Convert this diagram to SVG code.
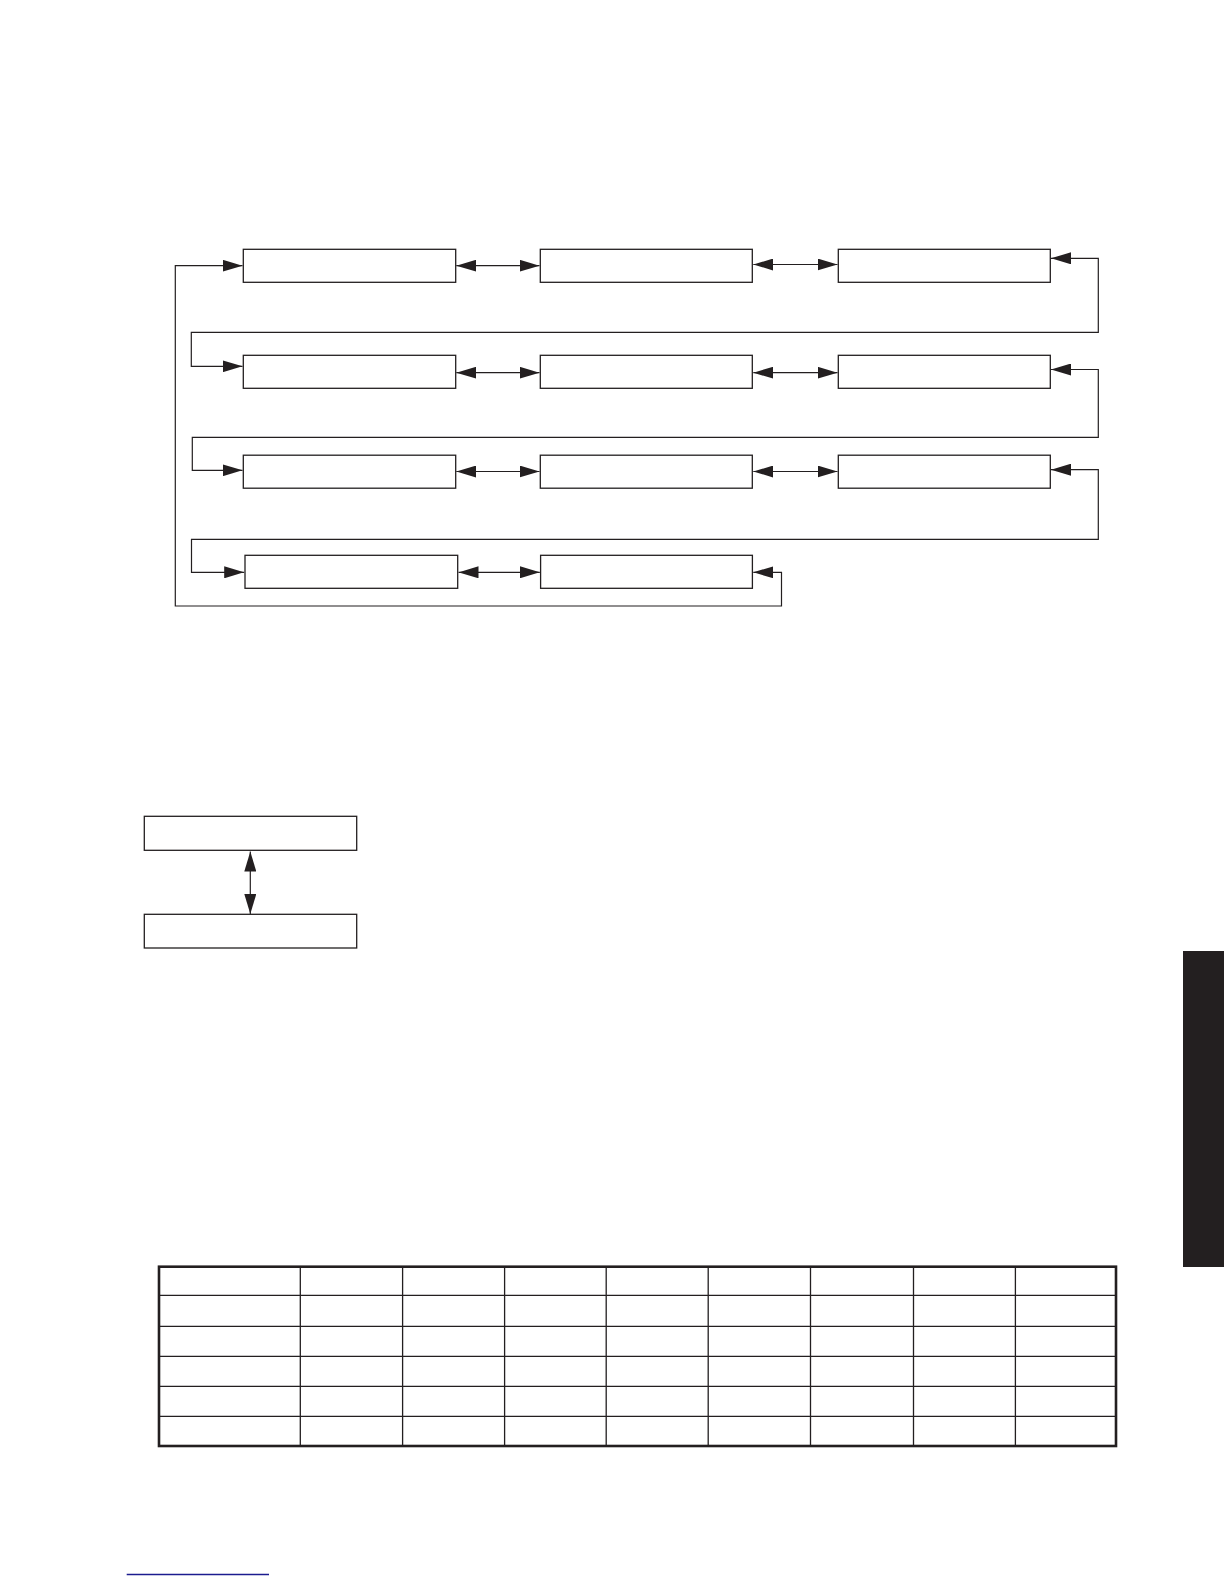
<svg xmlns="http://www.w3.org/2000/svg" width="1224" height="1584" viewBox="0 0 1224 1584">
<style>
.box{fill:#fff;stroke:#231f20;stroke-width:1.3}
.con{fill:none;stroke:#231f20;stroke-width:1.2;marker-start:url(#ah);marker-end:url(#ah)}
.grid{stroke:#231f20;stroke-width:1.3}
</style>
<defs>
<marker id="ah" markerUnits="userSpaceOnUse" markerWidth="20" markerHeight="12" refX="20" refY="6" orient="auto-start-reverse" viewBox="0 0 20 12">
<path d="M0,0 L20,6 L0,12 z" fill="#231f20"/>
</marker>
</defs>
<rect width="1224" height="1584" fill="#fff"/>
<g id="r1c1"><rect class="box" x="243.3" y="249.3" width="212.4" height="33"/></g>
<g id="r1c2"><rect class="box" x="540.3" y="249.3" width="212" height="33"/></g>
<g id="r1c3"><rect class="box" x="838.3" y="249.3" width="212" height="33"/></g>
<g id="r2c1"><rect class="box" x="243.3" y="355.3" width="212.4" height="33"/></g>
<g id="r2c2"><rect class="box" x="540.3" y="355.3" width="212" height="33"/></g>
<g id="r2c3"><rect class="box" x="838.3" y="355.3" width="212" height="33"/></g>
<g id="r3c1"><rect class="box" x="243.3" y="455.2" width="212.4" height="33"/></g>
<g id="r3c2"><rect class="box" x="540.3" y="455.2" width="212" height="33"/></g>
<g id="r3c3"><rect class="box" x="838.3" y="455.2" width="212" height="33"/></g>
<g id="r4c1"><rect class="box" x="245" y="555.3" width="212.7" height="33"/></g>
<g id="r4c2"><rect class="box" x="540.6" y="555.3" width="211.8" height="33"/></g>
<g id="boxA"><rect class="box" x="144.3" y="816.3" width="212.4" height="34"/></g>
<g id="boxB"><rect class="box" x="144.3" y="914.3" width="212.4" height="33.7"/></g>
<g id="connectors">
<path class="con" d="M456.3 265.7 H539.5"/>
<path class="con" d="M753.3 264.5 H837.5"/>
<path class="con" d="M456.3 372.7 H539.5"/>
<path class="con" d="M753.3 372.7 H837.5"/>
<path class="con" d="M456.3 471.5 H539.5"/>
<path class="con" d="M753.3 471.5 H837.5"/>
<path class="con" d="M458.5 572.3 H539.8"/>
<path class="con" d="M1051 258.3 H1098.3 V332.3 H191.3 V366.3 H242.5"/>
<path class="con" d="M1051 369.5 H1098.3 V437.3 H192.3 V470.3 H242.5"/>
<path class="con" d="M1051 469.7 H1098.3 V539.3 H191.5 V572.3 H244.2"/>
<path class="con" d="M753.3 572.3 H781.5 V606 H175.3 V265.7 H242.5"/>
<path class="con" d="M250.3 851.5 V914"/>
</g>
<g id="table">
<rect x="159" y="1266.7" width="957" height="179.3" fill="none" stroke="#231f20" stroke-width="2.6"/>
<path class="grid" d="M159 1295.3 H1116 M159 1326.3 H1116 M159 1356.3 H1116 M159 1386.3 H1116 M159 1416.3 H1116 M300.3 1266.7 V1446 M402.6 1266.7 V1446 M504.6 1266.7 V1446 M606.2 1266.7 V1446 M708.2 1266.7 V1446 M810.5 1266.7 V1446 M913.5 1266.7 V1446 M1015.4 1266.7 V1446"/>
</g>
<rect id="tab" x="1183" y="951" width="41" height="316" fill="#231f20"/>
<line x1="126.7" y1="1574.5" x2="269" y2="1574.5" stroke="#1c1c8f" stroke-width="1.3"/>
</svg>
